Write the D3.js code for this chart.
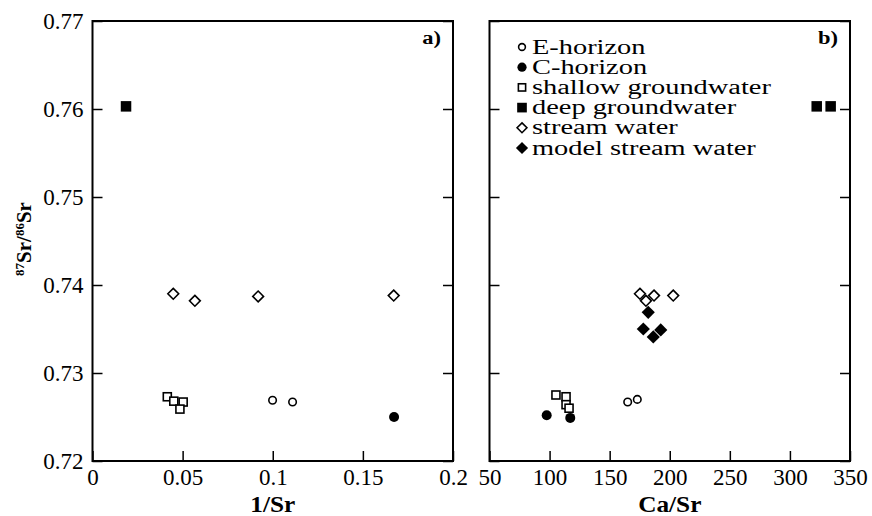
<!DOCTYPE html>
<html>
<head>
<meta charset="utf-8">
<script src="https://cdn.jsdelivr.net/npm/d3@7"></script>
<style>
  body { margin: 0; background: #fff; }
  svg { display: block; }
</style>
</head>
<body>
<div id="chart"></div>
<script>
// series names (legend order)
var seriesNames = ["E-horizon", "C-horizon", "shallow groundwater", "deep groundwater", "stream water", "model stream water"];
var seriesShapes = ["circle", "circle", "square", "square", "diamond", "diamond"];
var seriesFilled = [false, true, false, true, false, true];

// panel a) : [1/Sr, 87Sr/86Sr]
var eHorizonA = [[0.0999, 0.7269], [0.1110, 0.7267]];
var cHorizonA = [[0.1673, 0.7250]];
var shallowA  = [[0.0415, 0.7273], [0.0451, 0.7268], [0.0503, 0.7267], [0.0485, 0.7259]];
var deepA     = [[0.0186, 0.7603]];
var streamA   = [[0.0448, 0.7390], [0.0568, 0.7382], [0.0919, 0.7387], [0.1671, 0.7388]];
var modelA    = [];

// panel b) : [Ca/Sr, 87Sr/86Sr]
var eHorizonB = [[165.0, 0.7267], [173.0, 0.7270]];
var cHorizonB = [[97.6, 0.7252], [117.2, 0.7249]];
var shallowB  = [[105.3, 0.7275], [113.7, 0.7273], [113.7, 0.7264], [116.2, 0.7260]];
var deepB     = [[322.3, 0.7603], [333.9, 0.7603]];
var streamB   = [[175.2, 0.7390], [180.2, 0.7382], [186.9, 0.7388], [202.9, 0.7388]];
var modelB    = [[182.1, 0.7369], [178.0, 0.7350], [186.3, 0.7341], [192.5, 0.7349]];

// ticks
var yTicks = [0.72, 0.73, 0.74, 0.75, 0.76, 0.77];
var yTickLabels = ["0.72", "0.73", "0.74", "0.75", "0.76", "0.77"];
var xTicksA = [0, 0.05, 0.1, 0.15, 0.2];
var xTickLabelsA = ["0", "0.05", "0.1", "0.15", "0.2"];
var xTicksB = [50, 100, 150, 200, 250, 300, 350];
var xTickLabelsB = ["50", "100", "150", "200", "250", "300", "350"];

var svgWidth = 872;
var svgHeight = 516;
var plotTop = 21;
var plotBottom = 461;
var aLeft = 92.5, aRight = 453;
var bLeft = 489.5, bRight = 850;
var tickLen = 10;
var serif = "'Liberation Serif', 'Times New Roman', serif";

var svg = d3.select("#chart")
    .append("svg")
    .attr("width", svgWidth)
    .attr("height", svgHeight);

var yScale = d3.scaleLinear().domain([0.72, 0.77]).range([plotBottom, plotTop]);
var xScaleA = d3.scaleLinear().domain([0, 0.2]).range([aLeft, aRight]);
var xScaleB = d3.scaleLinear().domain([50, 350]).range([bLeft, bRight]);

// stretched text helper (the source lettering is wide)
function addText(parent, x, y, str, size, sx, anchor, weight) {
    return parent.append("text")
        .attr("transform", `translate(${x},${y}) scale(${sx},1)`)
        .attr("text-anchor", anchor || "start")
        .attr("font-family", serif)
        .attr("font-size", size + "px")
        .attr("font-weight", weight || "normal")
        .attr("fill", "#000")
        .text(str);
}

function styleAxis(g, showLabels) {
    g.select(".domain").remove();
    g.selectAll(".tick line").attr("stroke", "#000").attr("stroke-width", 1.5);
    if (!showLabels) {
        g.selectAll(".tick text").remove();
    } else {
        g.selectAll(".tick text")
            .attr("font-family", serif)
            .attr("font-size", "23px")
            .attr("fill", "#000");
    }
}

function drawPanel(xScale, left, right, xTicks, xLabels, yLabels, title, tag, data) {
    // bottom axis
    var xAxis = d3.axisBottom(xScale)
        .tickValues(xTicks)
        .tickFormat((d, i) => xLabels[i])
        .tickSizeInner(-tickLen)
        .tickSizeOuter(0)
        .tickPadding(8);
    var gx = svg.append("g")
        .attr("transform", `translate(0,${plotBottom})`)
        .call(xAxis);
    styleAxis(gx, true);

    // left axis
    var yAxisL = d3.axisLeft(yScale)
        .tickValues(yTicks)
        .tickFormat((d, i) => yTickLabels[i])
        .tickSizeInner(-tickLen)
        .tickSizeOuter(0)
        .tickPadding(9);
    var gyl = svg.append("g")
        .attr("transform", `translate(${left},0)`)
        .call(yAxisL);
    styleAxis(gyl, yLabels);

    // right axis
    var yAxisR = d3.axisRight(yScale)
        .tickValues(yTicks)
        .tickSizeInner(-tickLen)
        .tickSizeOuter(0);
    var gyr = svg.append("g")
        .attr("transform", `translate(${right},0)`)
        .call(yAxisR);
    styleAxis(gyr, false);

    // frame
    svg.append("rect")
        .attr("x", left)
        .attr("y", plotTop)
        .attr("width", right - left)
        .attr("height", plotBottom - plotTop)
        .attr("fill", "none")
        .attr("stroke", "#000")
        .attr("stroke-width", 2);

    // axis title
    addText(svg, (left + right) / 2, 512, title, 23, 1.1, "middle", "bold");
    // panel tag
    addText(svg, right - 12, 44, tag, 18, 1.25, "end", "bold");

    // points
    var pts = svg.append("g");
    data.forEach((series, si) => {
        series.forEach(p => {
            drawMarker(pts, xScale(p[0]), yScale(p[1]), si, 1);
        });
    });
}

function drawMarker(g, cx, cy, si, k) {
    var shape = seriesShapes[si];
    var filled = seriesFilled[si];
    var m;
    if (shape === "circle") {
        var r = (filled ? 5 : 4.5) * k;
        m = g.append("circle").attr("cx", cx).attr("cy", cy).attr("r", filled ? r : r - 0.75);
    } else if (shape === "square") {
        var s = (filled ? 10.5 : 9.5) * k;
        m = g.append("rect")
            .attr("x", cx - s / 2).attr("y", cy - s / 2)
            .attr("width", filled ? s : s - 1.5).attr("height", filled ? s : s - 1.5);
        if (!filled) m.attr("x", cx - s / 2 + 0.75).attr("y", cy - s / 2 + 0.75);
    } else {
        var h = (filled ? 6.6 : 6.2) * k;
        if (!filled) h -= 0.8;
        m = g.append("path")
            .attr("d", `M${cx},${cy - h}L${cx + h},${cy}L${cx},${cy + h}L${cx - h},${cy}Z`);
    }
    if (filled) {
        m.attr("fill", "#000").attr("stroke", "none");
    } else {
        m.attr("fill", "#fff").attr("stroke", "#000").attr("stroke-width", 1.6);
    }
}

drawPanel(xScaleA, aLeft, aRight, xTicksA, xTickLabelsA, true, "1/Sr", "a)",
    [eHorizonA, cHorizonA, shallowA, deepA, streamA, modelA]);
drawPanel(xScaleB, bLeft, bRight, xTicksB, xTickLabelsB, false, "Ca/Sr", "b)",
    [eHorizonB, cHorizonB, shallowB, deepB, streamB, modelB]);

// y axis title with superscripts
var yTitle = svg.append("text")
    .attr("transform", "translate(31,239) rotate(-90)")
    .attr("text-anchor", "middle")
    .attr("font-family", serif)
    .attr("font-size", "21px")
    .attr("font-weight", "bold")
    .attr("fill", "#000");
yTitle.append("tspan").attr("font-size", "13px").attr("dy", "-7").text("87");
yTitle.append("tspan").attr("dy", "7").text("Sr/");
yTitle.append("tspan").attr("font-size", "13px").attr("dy", "-7").text("86");
yTitle.append("tspan").attr("dy", "7").text("Sr");

// legend in panel b
var legend = svg.append("g");
var legendX = 522, legendY0 = 47, legendStep = 20.2;
seriesNames.forEach((name, i) => {
    var cy = legendY0 + i * legendStep;
    drawMarker(legend, legendX, cy, i, 0.92);
    addText(legend, legendX + 10, cy + 6.5, name, 20, 1.42, "start", "normal");
});
</script>
</body>
</html>
